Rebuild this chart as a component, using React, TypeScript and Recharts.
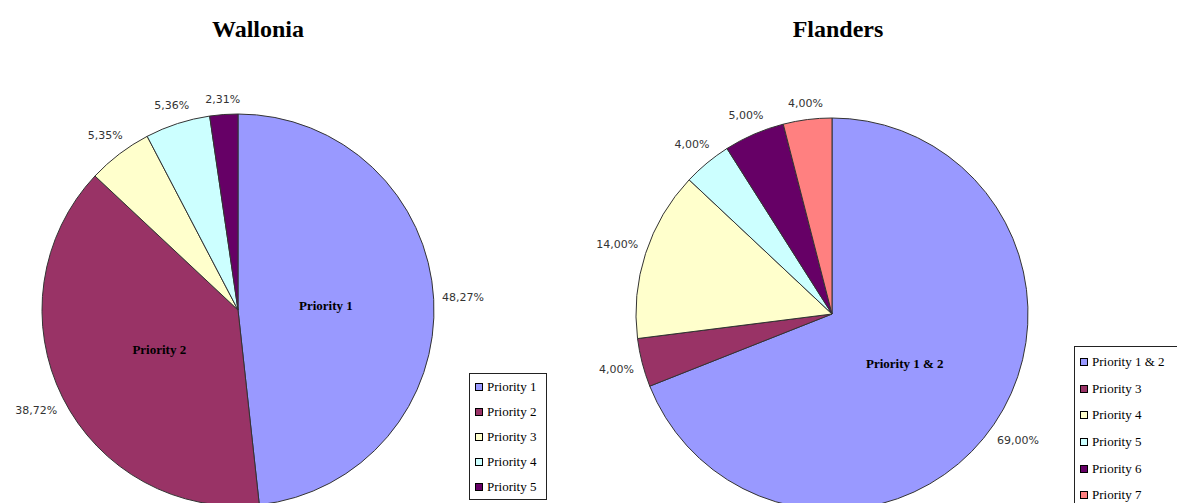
import { PieChart, Pie, Cell, Legend } from "recharts";

const walloniaNames = ["Priority 1", "Priority 2", "Priority 3", "Priority 4", "Priority 5"];
const walloniaValues = [48.27, 38.72, 5.35, 5.36, 2.31];
const walloniaInside = ["Priority 1", "Priority 2"];

const flandersNames = ["Priority 1 & 2", "Priority 3", "Priority 4", "Priority 5", "Priority 6", "Priority 7"];
const flandersValues = [69, 4, 14, 4, 5, 4];
const flandersInside = ["Priority 1 & 2"];

const colors = ["#9999FF", "#993366", "#FFFFCC", "#CCFFFF", "#660066", "#FF8080"];

const walloniaData = walloniaNames.map((name, i) => ({ name, value: walloniaValues[i] }));
const flandersData = flandersNames.map((name, i) => ({ name, value: flandersValues[i] }));

const RADIAN = Math.PI / 180;
const serif = "'Liberation Serif', 'Times New Roman', serif";

const fmt = (v: number) => v.toFixed(2).replace(".", ",") + "%";

function makeLabel(inside: string[]) {
    return (props: any) => {
        const { cx, cy, midAngle, outerRadius, value } = props;
        const name = props.name ?? props.payload?.name;
        const ux = Math.cos(-midAngle * RADIAN);
        const uy = Math.sin(-midAngle * RADIAN);
        const text = fmt(value);
        const hw = text.length * 3.5;
        const hh = 6;
        const d = outerRadius + 8 + hw * Math.abs(ux) + hh * Math.abs(uy);
        return (
            <g>
                <text
                    x={cx + d * ux}
                    y={cy + d * uy}
                    textAnchor="middle"
                    dominantBaseline="central"
                    fill="#333"
                    fontSize={11}
                    fontFamily="'DejaVu Sans', sans-serif"
                >
                    {text}
                </text>
                {inside.includes(name) && (
                    <text
                        x={cx + 88 * ux}
                        y={cy + 88 * uy}
                        textAnchor="middle"
                        dominantBaseline="central"
                        fill="#000"
                        fontSize={13}
                        fontWeight="bold"
                        fontFamily={serif}
                    >
                        {name}
                    </text>
                )}
            </g>
        );
    };
}

function BoxLegend({ payload, rowHeight, padTop }: any) {
    return (
        <div
            style={{
                border: "1px solid #222",
                background: "#fff",
                paddingTop: padTop,
                fontFamily: serif,
                fontSize: 13,
                color: "#000",
                whiteSpace: "nowrap",
            }}
        >
            {(payload || []).map((p: any, i: number) => (
                <div key={i} style={{ height: rowHeight, display: "flex", alignItems: "center", paddingLeft: 5 }}>
                    <span
                        style={{
                            display: "inline-block",
                            width: 6,
                            height: 6,
                            border: "1px solid #000",
                            background: p.color,
                            marginRight: 4,
                        }}
                    />
                    {p.value}
                </div>
            ))}
        </div>
    );
}

const titleStyle = (left: number): React.CSSProperties => ({
    position: "absolute",
    top: 16,
    left,
    width: 200,
    textAlign: "center",
    fontFamily: serif,
    fontWeight: "bold",
    fontSize: 24,
    color: "#000",
});

export default function App() {
    return (
        <div
            style={{
                position: "absolute",
                left: 0,
                top: 0,
                width: 1177,
                height: 503,
                background: "#fff",
                overflow: "hidden",
            }}
        >
            <div style={titleStyle(158)}>Wallonia</div>
            <div style={titleStyle(738)}>Flanders</div>

            <div style={{ position: "absolute", left: 0, top: 0 }}>
                <PieChart width={560} height={503} margin={{ top: 0, right: 0, bottom: 0, left: 0 }}>
                    <Pie
                        data={walloniaData}
                        dataKey="value"
                        nameKey="name"
                        cx={238}
                        cy={310}
                        outerRadius={196}
                        startAngle={90}
                        endAngle={-270}
                        stroke="#333"
                        strokeWidth={1}
                        label={makeLabel(walloniaInside)}
                        labelLine={false}
                        isAnimationActive={false}
                    >
                        {walloniaData.map((_, i) => (
                            <Cell key={i} fill={colors[i]} />
                        ))}
                    </Pie>
                    <Legend
                        layout="vertical"
                        align="right"
                        verticalAlign="middle"
                        wrapperStyle={{ left: 469, top: 373, width: 78, right: "auto", bottom: "auto" }}
                        content={(p: any) => <BoxLegend payload={p.payload} rowHeight={25} padTop={0} />}
                    />
                </PieChart>
            </div>

            <div style={{ position: "absolute", left: 560, top: 0 }}>
                <PieChart width={617} height={503} margin={{ top: 0, right: 0, bottom: 0, left: 0 }}>
                    <Pie
                        data={flandersData}
                        dataKey="value"
                        nameKey="name"
                        cx={272}
                        cy={314}
                        outerRadius={196}
                        startAngle={90}
                        endAngle={-270}
                        stroke="#333"
                        strokeWidth={1}
                        label={makeLabel(flandersInside)}
                        labelLine={false}
                        isAnimationActive={false}
                    >
                        {flandersData.map((_, i) => (
                            <Cell key={i} fill={colors[i]} />
                        ))}
                    </Pie>
                    <Legend
                        layout="vertical"
                        align="right"
                        verticalAlign="middle"
                        wrapperStyle={{ left: 514, top: 346, width: 130, right: "auto", bottom: "auto" }}
                        content={(p: any) => <BoxLegend payload={p.payload} rowHeight={26.6} padTop={2} />}
                    />
                </PieChart>
            </div>
        </div>
    );
}
